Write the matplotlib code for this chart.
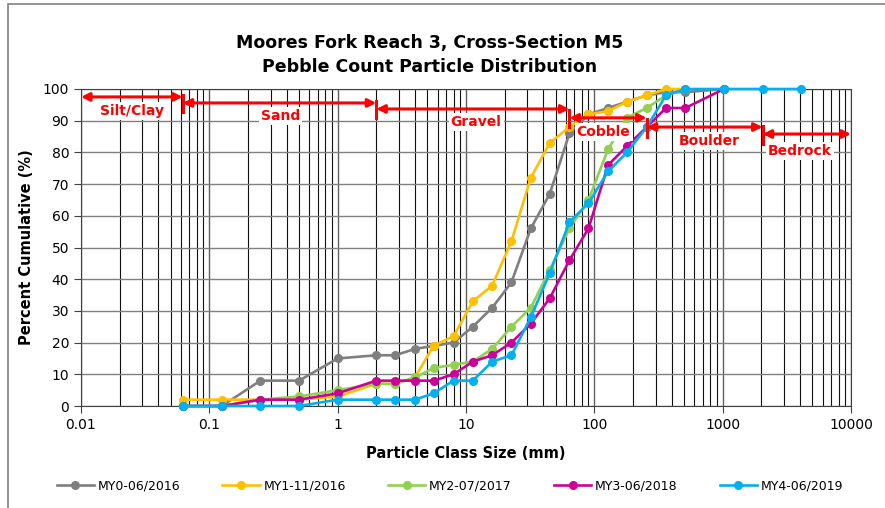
import matplotlib
matplotlib.use('Agg')
import matplotlib.pyplot as plt
from matplotlib.patches import Rectangle

# sieve sizes (mm)
sizes = [0.062, 0.125, 0.25, 0.5, 1, 2, 2.8, 4, 5.6, 8, 11.3, 16, 22.6, 32, 45,
         64, 90, 128, 180, 256, 362, 512, 1024, 2048, 4096]

# percent cumulative per monitoring year
my0 = [0, 0, 8, 8, 15, 16, 16, 18, 19, 20, 25, 31, 39, 56, 67,
       86, 92, 94, 96, 98, 99, 99, 100]
my1 = [2, 2, 2, 2, 3, 7, 7, 9, 19, 22, 33, 38, 52, 72, 83,
       88, 92, 93, 96, 98, 100, 100]
my2 = [0, 0, 2, 3, 5, 7, 7, 9, 12, 13, 14, 18, 25, 31, 43,
       56, 65, 81, 91, 94, 98, 100]
my3 = [0, 0, 2, 2, 4, 8, 8, 8, 8, 10, 14, 16, 20, 26, 34,
       46, 56, 76, 82, 88, 94, 94, 100]
my4 = [0, 0, 0, 0, 2, 2, 2, 2, 4, 8, 8, 14, 16, 28, 42,
       58, 64, 74, 80, 88, 98, 100, 100, 100, 100]

series_labels = ['MY0-06/2016', 'MY1-11/2016', 'MY2-07/2017', 'MY3-06/2018', 'MY4-06/2019']
series_colors = ['#7F7F7F', '#FFC000', '#92D050', '#CC0099', '#00B0F0']

# particle class boundaries (mm) and labels
class_names = ['Silt/Clay', 'Sand', 'Gravel', 'Cobble', 'Boulder', 'Bedrock']
class_edges = [0.01, 0.062, 2, 64, 256, 2048, 10000]
arrow_y = [97.5, 95.6, 93.7, 90.9, 88.0, 85.8]
label_x = [0.025, 0.36, 12, 118, 790, 4000]
label_y = [93.0, 91.5, 89.5, 86.5, 83.5, 80.5]

fig = plt.figure(figsize=(8.85, 5.08), dpi=100)
ax = fig.add_axes([81/885, 1-406/508, 770/885, 317/508])

ax.set_xscale('log')
ax.set_xlim(0.01, 10000)
ax.set_ylim(0, 100)
ax.set_yticks(range(0, 101, 10))
ax.set_xticks([0.01, 0.1, 1, 10, 100, 1000, 10000])
ax.set_xticklabels(['0.01', '0.1', '1', '10', '100', '1000', '10000'])
ax.grid(True, which='major', axis='x', color='#606060', lw=1.0)
ax.grid(True, which='minor', axis='x', color='#111111', lw=0.8)
ax.grid(True, which='major', axis='y', color='#808080', lw=1.0)
ax.tick_params(axis='x', which='minor', length=0)
ax.tick_params(axis='both', which='major', length=5, width=0.8, labelsize=10, color='#404040')
for s in ax.spines.values():
    s.set_color('#404040')
    s.set_linewidth(0.8)
ax.set_axisbelow(True)

for vals, lab, col in zip([my0, my1, my2, my3, my4], series_labels, series_colors):
    ax.plot(sizes[:len(vals)], vals, color=col, lw=1.9, marker='o', ms=5.5,
            label=lab, clip_on=False, zorder=3)

# class arrows
for i, name in enumerate(class_names):
    x0, x1 = class_edges[i], class_edges[i + 1]
    y = arrow_y[i]
    ax.annotate('', xy=(x1, y), xytext=(x0, y),
                arrowprops=dict(arrowstyle='<|-|>', color='red', lw=2.2,
                                mutation_scale=12, shrinkA=0, shrinkB=0), zorder=4)
    ax.text(label_x[i], label_y[i], name, color='red', fontsize=10, fontweight='bold',
            ha='center', va='center', zorder=5,
            bbox=dict(facecolor='white', edgecolor='none', pad=1.5))
    if i > 0:
        ax.plot([x0, x0], [y - 3, y + 2.5], color='red', lw=2.2, zorder=4, clip_on=False)

ax.set_xlabel('Particle Class Size (mm)', fontsize=10.5, fontweight='bold', labelpad=10)
ax.set_ylabel('Percent Cumulative (%)', fontsize=10.5, fontweight='bold', labelpad=6)
fig.text(430/885, 1-55/508, 'Moores Fork Reach 3, Cross-Section M5\nPebble Count Particle Distribution',
         ha='center', va='center', fontsize=12.5, fontweight='bold', linespacing=1.45)

fig.legend(loc='center', bbox_to_anchor=(450/885, 1-486/508), ncol=5, frameon=False,
           fontsize=9, handlelength=3.0, handletextpad=0.3, columnspacing=3.35)

fig.patches.append(Rectangle((8/885, -0.05), 1.1, 1.05 - 4/508, transform=fig.transFigure,
                             fill=False, edgecolor='#808080', lw=1.2))

fig.savefig('out.png', dpi=100)
